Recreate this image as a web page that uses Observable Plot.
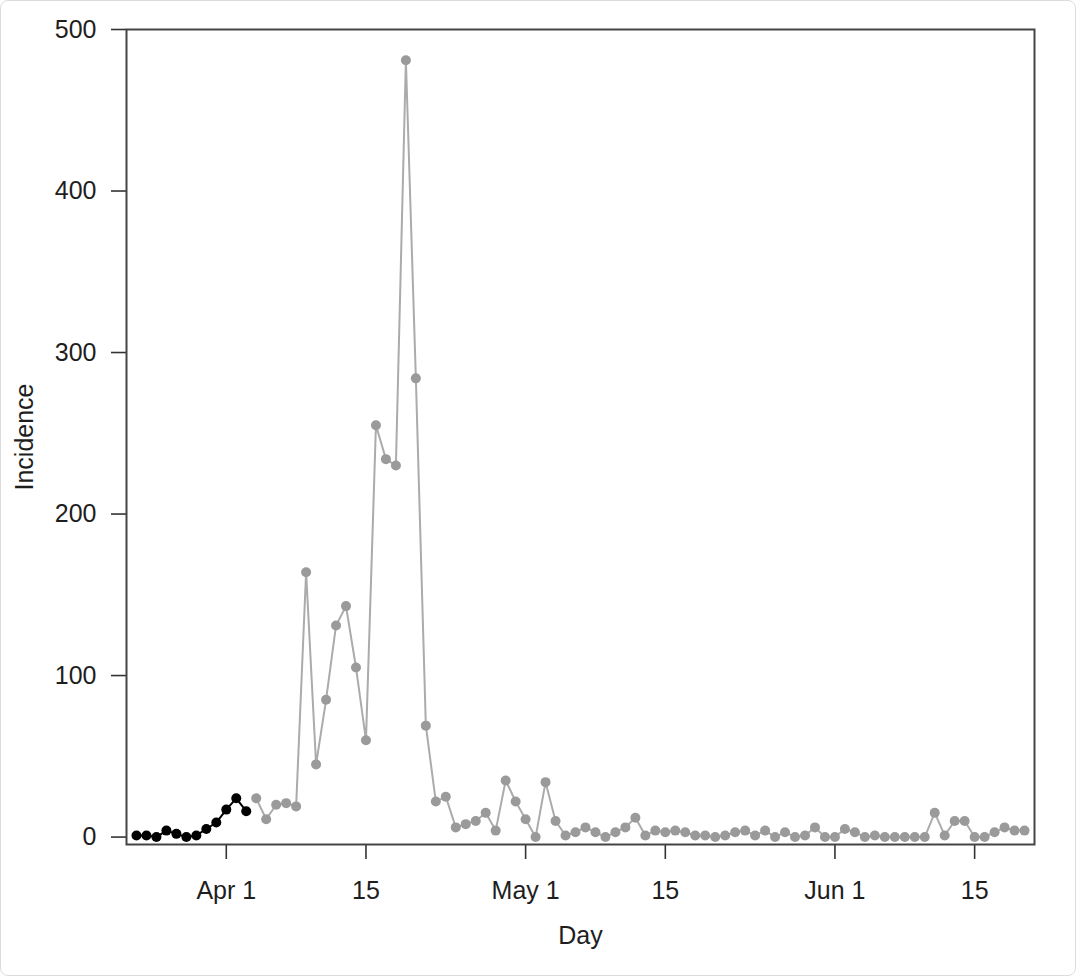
<!DOCTYPE html>
<html>
<head>
<meta charset="utf-8">
<script src="https://cdn.jsdelivr.net/npm/d3@7"></script>
<script src="https://cdn.jsdelivr.net/npm/@observablehq/plot@0.6"></script>
<style>
  html, body { margin: 0; padding: 0; background: #fff; }
  #wrap { position: relative; width: 1076px; height: 976px; }
  #wrap::after { content: ""; position: absolute; left: 0; top: 0; right: 0; bottom: 0;
    border: 1px solid #dcdcdc; border-radius: 8px; pointer-events: none; }
  svg { display: block; }
</style>
</head>
<body>
<div id="wrap"></div>
<script>
// Early (black) series: daily incidence from Mar 23
const earlyStart = "2020-03-23";
const earlyValues = [1, 1, 0, 4, 2, 0, 1, 5, 9, 17, 24, 16];
// Later (grey) series: daily incidence from Apr 4
const lateStart = "2020-04-04";
const lateValues = [
  24, 11, 20, 21, 19, 164, 45, 85, 131, 143, 105, 60, 255, 234, 230, 481, 284, 69,
  22, 25, 6, 8, 10, 15, 4, 35, 22,
  11, 0, 34, 10, 1, 3, 6, 3, 0, 3, 6, 12, 1, 4, 3, 4, 3, 1, 1, 0, 1, 3, 4, 1, 4, 0, 3, 0, 1, 6, 0,
  0, 5, 3, 0, 1, 0, 0, 0, 0, 0, 15, 1, 10, 10, 0, 0, 3, 6, 4, 4
];
const xTickDates = ["2020-04-01", "2020-04-15", "2020-05-01", "2020-05-15", "2020-06-01", "2020-06-15"];
const xTickLabels = ["Apr 1", "15", "May 1", "15", "Jun 1", "15"];
const yTicks = [0, 100, 200, 300, 400, 500];

const toRows = (start, vals) => {
  const s = new Date(start + "T00:00:00Z");
  return vals.map((v, i) => ({date: d3.utcDay.offset(s, i), value: v}));
};
const early = toRows(earlyStart, earlyValues);
const late = toRows(lateStart, lateValues);
const tickDates = xTickDates.map(d => new Date(d + "T00:00:00Z"));
const labelOf = new Map(tickDates.map((d, i) => [+d, xTickLabels[i]]));

const font = "'Liberation Sans', Arial, Helvetica, sans-serif";
const fs = 25;
const chart = Plot.plot({
  width: 1076,
  height: 976,
  marginLeft: 126,
  marginRight: 42,
  marginTop: 29,
  marginBottom: 132,
  style: {fontFamily: font, fontSize: fs + "px", color: "#1e1e1e", background: "transparent"},
  x: {type: "utc", domain: [new Date("2020-03-22T00:00:00Z"), new Date("2020-06-21T00:00:00Z")]},
  y: {domain: [-4.6, 500]},
  marks: [
    Plot.axisX({ticks: tickDates, tickFormat: d => labelOf.get(+d), tickSize: 15, tickPadding: 22,
      fontSize: fs, label: null, stroke: "#333", strokeWidth: 1.6}),
    Plot.axisY({ticks: yTicks, tickSize: 15, tickPadding: 15, fontSize: fs, label: null,
      stroke: "#333", strokeWidth: 1.6}),
    Plot.text(["Day"], {frameAnchor: "bottom", dy: 82, lineAnchor: "top", fontSize: fs, fill: "#1e1e1e"}),
    Plot.text(["Incidence"], {frameAnchor: "left", dx: -102, rotate: -90, textAnchor: "middle",
      fontSize: fs, fill: "#1e1e1e"}),
    Plot.line(late, {x: "date", y: "value", stroke: "#ababab", strokeWidth: 2}),
    Plot.dot(late, {x: "date", y: "value", r: 5, fill: "#9a9a9a", stroke: "none"}),
    Plot.line(early, {x: "date", y: "value", stroke: "#000", strokeWidth: 2}),
    Plot.dot(early, {x: "date", y: "value", r: 5, fill: "#000", stroke: "none"}),
    Plot.frame({stroke: "#444", strokeWidth: 2})
  ]
});
document.getElementById("wrap").appendChild(chart);
</script>
</body>
</html>
